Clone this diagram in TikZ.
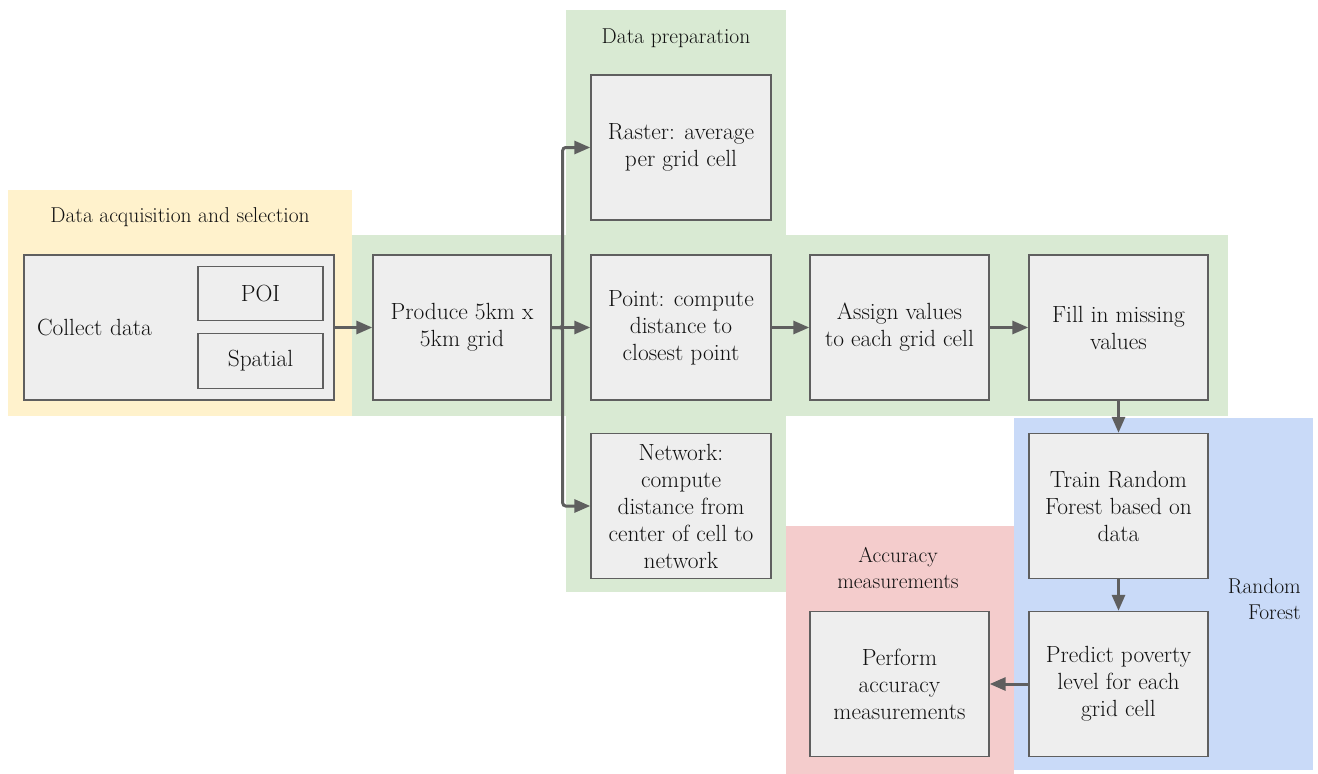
\documentclass[tikz,border=0pt]{standalone}
\usetikzlibrary{arrows.meta}
\definecolor{yel}{HTML}{FFF2CC}
\definecolor{grn}{HTML}{D9EAD3}
\definecolor{blu}{HTML}{C9DAF8}
\definecolor{redd}{HTML}{F4CCCC}
\definecolor{boxfill}{HTML}{EEEEEE}
\definecolor{edge}{HTML}{5F5F5F}
\definecolor{txt}{HTML}{111111}
\tikzset{
  stepbox/.style={draw=edge, line width=1.4pt, fill=boxfill, align=center,
    minimum width=179pt, minimum height=145pt, inner sep=0pt, text=txt,
    font=\fontsize{23.4}{27}\selectfont},
  smallbox/.style={draw=edge, line width=1.4pt, fill=boxfill, align=center,
    minimum width=125pt, minimum height=54.5pt, inner sep=0pt, text=txt,
    font=\fontsize{23.4}{27}\selectfont},
  grouplabel/.style={text=txt, inner sep=0pt, font=\fontsize{21.5}{26}\selectfont},
  arr/.style={draw=edge, line width=3pt, -{Triangle[length=16pt,width=13pt]}}
}
\begin{document}
\begin{tikzpicture}[x=1pt,y=-1pt]
\useasboundingbox (0,0) rectangle (1318,774);
% regions
\fill[yel] (8,190) rectangle (352,416);
\fill[grn] (352,235) rectangle (1228,416);
\fill[grn] (566,10) rectangle (786,592);
\fill[blu] (1014,418) rectangle (1313,770);
\fill[redd] (786,526) rectangle (1014,774);
% group labels
\node[grouplabel] (lacq) at (180,217) {Data acquisition and selection};
\node[grouplabel] (lprep) at (676,38) {Data preparation};
\node[grouplabel, align=center] (lacc) at (898,568) {Accuracy\\measurements};
\node[grouplabel, align=right, anchor=east] (lrf) at (1301,599) {Random\\Forest};
% boxes
\node[stepbox, minimum width=310pt, text width=284pt, align=left] (collect) at (179,327.5) {Collect data};
\node[smallbox] (poi) at (260.5,293.5) {POI};
\node[smallbox] (spatial) at (260.5,361) {Spatial};
\node[stepbox, minimum width=178pt] (produce) at (462,327.5) {Produce 5km x\\5km grid};
\node[stepbox, minimum width=180pt] (raster) at (681,147.5) {Raster: average\\per grid cell};
\node[stepbox, minimum width=180pt] (point) at (681,327.5) {Point: compute\\distance to\\closest point};
\node[stepbox, minimum width=180pt] (network) at (681,506) {Network:\\compute\\distance from\\center of cell to\\network};
\node[stepbox] (assign) at (899.5,327.5) {Assign values\\to each grid cell};
\node[stepbox] (fill) at (1118.5,327.5) {Fill in missing\\values};
\node[stepbox] (train) at (1118.5,506) {Train Random\\Forest based on\\data};
\node[stepbox] (predict) at (1118.5,684) {Predict poverty\\level for each\\grid cell};
\node[stepbox] (perform) at (899.5,684) {Perform\\accuracy\\measurements};
% connectors
\draw[arr] (collect.east) -- (produce.west);
\draw[arr] (produce.east) -- (point.west);
\draw[arr, rounded corners=3pt] (produce.east) -- ++(11,0) |- (raster.west);
\draw[arr, rounded corners=3pt] (produce.east) -- ++(11,0) |- (network.west);
\draw[arr] (point.east) -- (assign.west);
\draw[arr] (assign.east) -- (fill.west);
\draw[arr] (fill.south) -- (train.north);
\draw[arr] (train.south) -- (predict.north);
\draw[arr] (predict.west) -- (perform.east);
\end{tikzpicture}
\end{document}
